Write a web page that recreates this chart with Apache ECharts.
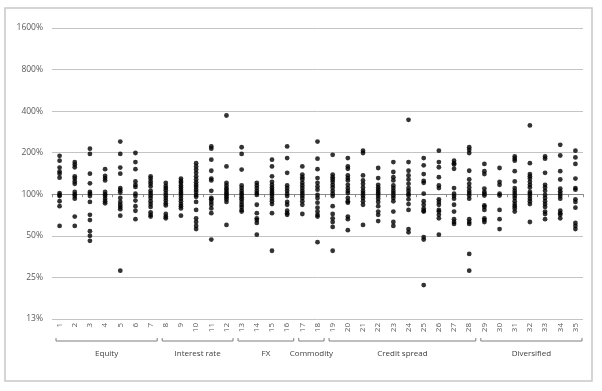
<!DOCTYPE html>
<html><head><meta charset="utf-8">
<script src="https://cdn.jsdelivr.net/npm/echarts@6/dist/echarts.min.js"></script>
<style>html,body{margin:0;padding:0;background:#fff}#c{width:602px;height:391px}</style>
</head><body><div id="c"></div>
<script>
// ---------- data ----------
const categories = ['1','2','3','4','5','6','7','8','9','10','11','12','13','14','15','16','17','18','19','20','21','22','23','24','25','26','27','28','29','30','31','32','33','34','35'];
const yTicks = [0.125, 0.25, 0.5, 1, 2, 4, 8, 16];
const yTickLabels = ['13%', '25%', '50%', '100%', '200%', '400%', '800%', '1600%'];
const groupNames = ['Equity', 'Interest rate', 'FX', 'Commodity', 'Credit spread', 'Diversified'];
const groupFirst = ['1', '8', '13', '17', '19', '29'];
const groupLast  = ['7', '12', '16', '18', '28', '35'];

const c01 = [1.90,1.75,1.56,1.46,1.41,1.32,1.02,0.99,0.97,0.89,0.82,0.59];
const c02 = [1.71,1.64,1.57,1.35,1.30,1.24,1.19,1.04,1.00,0.97,0.93,0.69,0.59];
const c03 = [2.14,1.96,1.41,1.20,1.04,1.01,0.97,0.88,0.71,0.65,0.54,0.50,0.46];
const c04 = [1.52,1.36,1.31,1.26,1.04,1.00,0.97,0.93,0.89,0.86];
const c05 = [2.41,1.96,1.56,1.41,1.11,1.07,1.03,0.94,0.88,0.84,0.81,0.78,0.70,0.28];
const c06 = [1.99,1.71,1.52,1.24,1.17,1.13,1.01,0.97,0.90,0.82,0.76,0.66];
const c07 = [1.35,1.30,1.24,1.19,1.14,1.06,1.02,0.98,0.94,0.89,0.85,0.81,0.74,0.71,0.69];
const c08 = [1.21,1.15,1.11,1.07,1.02,0.98,0.94,0.90,0.86,0.83,0.72,0.69,0.67];
const c09 = [1.30,1.25,1.21,1.16,1.12,1.08,1.04,1.01,0.97,0.93,0.89,0.85,0.82,0.79,0.70];
const c10 = [1.68,1.59,1.51,1.43,1.35,1.28,1.22,1.17,1.13,1.08,1.04,0.99,0.96,0.88,0.77,0.67,0.63,0.59,0.56];
const c11 = [2.22,2.14,1.78,1.48,1.30,1.26,1.06,0.94,0.92,0.88,0.84,0.79,0.73,0.47];
const c12 = [3.72,1.59,1.21,1.16,1.11,1.08,1.04,1.01,0.98,0.95,0.92,0.88,0.60];
const c13 = [2.19,1.96,1.51,1.16,1.11,1.06,1.02,0.99,0.95,0.92,0.88,0.84,0.81,0.77,0.75];
const c14 = [1.21,1.16,1.11,1.06,1.02,0.99,0.84,0.73,0.67,0.65,0.62,0.51];
const c15 = [1.78,1.59,1.35,1.23,1.17,1.12,1.08,1.04,1.01,0.97,0.93,0.89,0.85,0.73,0.39];
const c16 = [2.22,1.83,1.43,1.16,1.11,1.06,1.01,0.97,0.88,0.84,0.76,0.73,0.71];
const c17 = [1.59,1.39,1.33,1.28,1.21,1.16,1.11,1.06,1.02,0.98,0.94,0.89,0.84,0.72];
const c18 = [2.41,1.81,1.52,1.31,1.21,1.14,1.08,0.99,0.94,0.87,0.80,0.75,0.71,0.69,0.45];
const c19 = [1.93,1.39,1.33,1.28,1.23,1.17,1.12,1.06,1.01,0.97,0.82,0.72,0.67,0.63,0.58,0.39];
const c20 = [1.83,1.59,1.53,1.37,1.31,1.26,1.17,1.11,1.06,1.02,0.94,0.89,0.87,0.69,0.66,0.55];
const c21 = [2.07,1.99,1.37,1.26,1.19,1.12,1.06,1.02,0.98,0.94,0.89,0.84,0.60];
const c22 = [1.55,1.31,1.17,1.12,1.08,1.04,1.01,0.97,0.93,0.88,0.82,0.75,0.71,0.64];
const c23 = [1.71,1.45,1.33,1.26,1.16,1.11,1.06,1.02,0.98,0.94,0.89,0.75,0.63,0.59];
const c24 = [3.46,1.71,1.48,1.37,1.28,1.19,1.11,1.06,1.01,0.98,0.92,0.85,0.77,0.56,0.53];
const c25 = [1.83,1.62,1.40,1.25,1.21,1.01,0.89,0.84,0.79,0.76,0.75,0.49,0.47,0.22];
const c26 = [2.07,1.71,1.57,1.33,1.16,1.11,0.92,0.88,0.84,0.77,0.75,0.71,0.67,0.51];
const c27 = [1.75,1.68,1.64,1.53,1.11,1.01,0.97,0.93,0.84,0.75,0.66,0.63,0.61];
const c28 = [2.19,2.10,1.99,1.48,1.28,1.19,1.12,1.06,1.02,0.98,0.93,0.66,0.63,0.61,0.37,0.28];
const c29 = [1.66,1.47,1.40,1.10,1.04,1.01,0.98,0.83,0.81,0.77,0.67,0.65,0.63];
const c30 = [1.55,1.23,1.17,1.01,0.98,0.77,0.66,0.56];
const c31 = [1.88,1.81,1.75,1.47,1.24,1.11,1.06,1.02,0.98,0.94,0.89,0.85,0.82,0.79,0.75];
const c32 = [3.15,1.68,1.40,1.35,1.30,1.23,1.17,1.12,1.04,1.01,0.97,0.93,0.89,0.85,0.63];
const c33 = [1.88,1.81,1.43,1.17,1.12,1.06,0.99,0.94,0.89,0.85,0.81,0.75,0.72,0.66];
const c34 = [2.28,1.91,1.47,1.28,1.10,1.05,1.01,0.97,0.93,0.76,0.73,0.71,0.67];
const c35 = [2.07,1.85,1.66,1.30,1.11,1.08,0.92,0.88,0.80,0.62,0.59,0.56];

const columns = [c01,c02,c03,c04,c05,c06,c07,c08,c09,c10,c11,c12,c13,c14,c15,c16,c17,c18,c19,c20,c21,c22,c23,c24,c25,c26,c27,c28,c29,c30,c31,c32,c33,c34,c35];

// ---------- chart ----------
const FONT = '"Open Sans", "Liberation Sans", sans-serif';
const points = [];
columns.forEach((col, i) => col.forEach(v => points.push([categories[i], v])));

const chart = echarts.init(document.getElementById('c'), null, {renderer: 'canvas'});
const GRID = {left: 52, right: 19, top: 28, bottom: 72};

chart.setOption({
  animation: false,
  backgroundColor: '#fff',
  grid: GRID,
  xAxis: [{
    type: 'category',
    data: categories,
    position: 'bottom',
    axisLine: {show: false},
    axisTick: {show: false},
    axisLabel: {rotate: 90, margin: 4, fontSize: 8, color: '#595959', fontFamily: FONT, interval: 0},
    splitLine: {show: false}
  }, {
    type: 'category',
    data: categories,
    position: 'bottom',
    offset: -124.8,
    axisLine: {show: true, lineStyle: {color: '#8c8c8c', width: 1}},
    axisTick: {show: true, length: 3, lineStyle: {color: '#8c8c8c'}},
    axisLabel: {show: false},
    splitLine: {show: false}
  }],
  yAxis: {
    type: 'log',
    logBase: 2,
    min: 0.125,
    max: 16,
    interval: 1,
    axisLine: {show: false},
    axisTick: {show: false},
    axisLabel: {
      fontSize: 8.5, color: '#595959', fontFamily: FONT, margin: 9,
      formatter: v => {
        const i = yTicks.findIndex(t => Math.abs(t - v) / t < 1e-6);
        return i >= 0 ? yTickLabels[i] : '';
      }
    },
    splitLine: {show: true, lineStyle: {color: '#c4c4c4', width: 1}}
  },
  series: [{
    type: 'scatter',
    xAxisIndex: 0,
    data: points,
    symbol: 'circle',
    symbolSize: 4.8,
    itemStyle: {color: '#000'},
    z: 5
  }]
});

// group brackets and labels, positioned through the category axis
const cx = name => chart.convertToPixel({xAxisIndex: 0}, name);
const band = cx('2') - cx('1');
const yBottom = chart.convertToPixel({yAxisIndex: 0}, 0.125);
const yBracket = yBottom + 22;
const graphics = [{
  type: 'rect',
  shape: {x: 5, y: 8, width: 587, height: 373},
  style: {fill: 'none', stroke: '#c8c8c8', lineWidth: 1.5},
  silent: true
}];
groupNames.forEach((name, g) => {
  const x1 = cx(groupFirst[g]) - band / 2 + 4;
  const x2 = cx(groupLast[g]) + band / 2 - 1;
  graphics.push({
    type: 'polyline',
    shape: {points: [[x1, yBracket - 3], [x1, yBracket], [x2, yBracket], [x2, yBracket - 3]]},
    style: {stroke: '#7f7f7f', lineWidth: 1, fill: 'none'},
    silent: true
  });
  graphics.push({
    type: 'text',
    x: (x1 + x2) / 2,
    y: yBracket + 13,
    style: {text: name, font: '8px ' + FONT, fill: '#404040', textAlign: 'center', textVerticalAlign: 'middle'},
    silent: true
  });
});
chart.setOption({graphic: graphics});
</script>
</body></html>
